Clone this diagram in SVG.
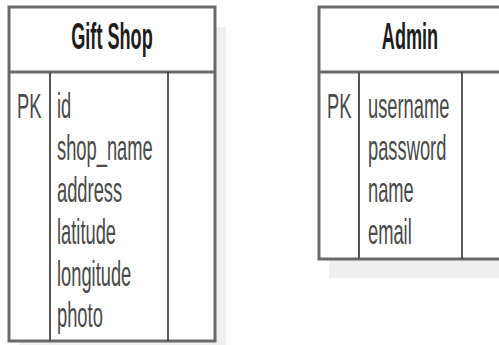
<svg xmlns="http://www.w3.org/2000/svg" width="499" height="345" viewBox="0 0 499 345">
  <style>
    .shadow { fill: #efefef; }
    .box { fill: #ffffff; stroke: #6a6a6a; stroke-width: 3; }
    .hline { stroke: #6a6a6a; stroke-width: 3; }
    .div1 { stroke: #555555; stroke-width: 2; }
    .div2 { stroke: #333333; stroke-width: 1.6; }
    .title { font-family: "Liberation Sans", Arial, sans-serif; font-size: 37px; font-weight: bold; fill: #1e1e1e; text-anchor: middle; }
    .field { font-family: "Liberation Sans", Arial, sans-serif; font-size: 33px; fill: #4a4a4a; }
  </style>

  <!-- Gift Shop table -->
  <g id="gift-shop">
    <rect class="shadow" x="19" y="27" width="207" height="330"/>
    <rect class="box" x="9" y="7" width="206" height="334"/>
    <line class="hline" x1="9" y1="72" x2="215" y2="72"/>
    <line class="div1" x1="50" y1="72" x2="50" y2="341"/>
    <line class="div2" x1="168" y1="72" x2="168" y2="341"/>
    <text class="title" transform="translate(112,49) scale(0.49,1.02)">Gift Shop</text>
    <text class="field" transform="translate(17,118) scale(0.555,1.06)">PK</text>
    <g class="field">
      <text transform="translate(57,118) scale(0.555,1.06)">id</text>
      <text transform="translate(57,160) scale(0.555,1.06)">shop_name</text>
      <text transform="translate(57,202) scale(0.555,1.06)">address</text>
      <text transform="translate(57,244) scale(0.555,1.06)">latitude</text>
      <text transform="translate(57,286) scale(0.555,1.06)">longitude</text>
      <text transform="translate(57,327) scale(0.555,1.06)">photo</text>
    </g>
  </g>

  <!-- Admin table -->
  <g id="admin">
    <rect class="shadow" x="329" y="26" width="190" height="252"/>
    <rect class="box" x="319" y="7" width="183" height="252"/>
    <line class="hline" x1="319" y1="72" x2="502" y2="72"/>
    <line class="div1" x1="359" y1="72" x2="359" y2="259"/>
    <line class="div2" x1="462" y1="72" x2="462" y2="259"/>
    <text class="title" transform="translate(410,49) scale(0.49,1.02)">Admin</text>
    <text class="field" transform="translate(327,118) scale(0.555,1.06)">PK</text>
    <g class="field">
      <text transform="translate(368,118) scale(0.555,1.06)">username</text>
      <text transform="translate(368,160) scale(0.555,1.06)">password</text>
      <text transform="translate(368,202) scale(0.555,1.06)">name</text>
      <text transform="translate(368,244) scale(0.555,1.06)">email</text>
    </g>
  </g>

  <g id="connectors"></g>
</svg>
